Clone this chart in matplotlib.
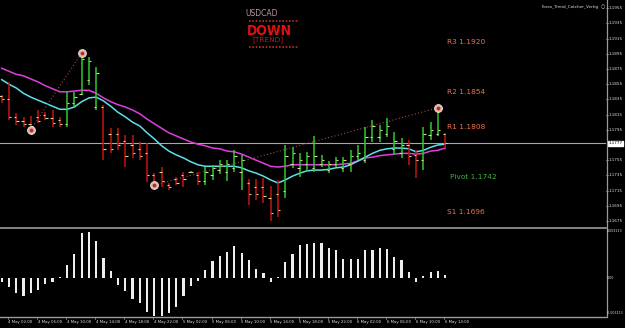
import matplotlib
matplotlib.use('Agg')
import matplotlib.pyplot as plt
import numpy as np

W, H = 625, 328

# ---- data -------------------------------------------------------------
high = [1.1841, 1.1858, 1.1817, 1.1812, 1.1813, 1.1821, 1.1818, 1.1821, 1.1812, 1.1845,
        1.1845, 1.1896, 1.1891, 1.1878, 1.1828, 1.1797, 1.1797, 1.1788, 1.1788, 1.1779,
        1.1778, 1.1738, 1.1746, 1.1725, 1.1733, 1.1739, 1.1741, 1.1739, 1.1746, 1.1749,
        1.1755, 1.1755, 1.1768, 1.1762, 1.1730, 1.1730, 1.1732, 1.1721, 1.1729, 1.1775,
        1.1772, 1.1764, 1.1766, 1.1787, 1.1762, 1.1754, 1.1759, 1.1759, 1.1768, 1.1775,
        1.1799, 1.1808, 1.1801, 1.1811, 1.1792, 1.1784, 1.1782, 1.1768, 1.1799, 1.1805,
        1.1824, 1.1791]
low = [1.1830, 1.1808, 1.1801, 1.1799, 1.1795, 1.1804, 1.1808, 1.1799, 1.1799, 1.1799,
       1.1825, 1.1841, 1.1854, 1.1821, 1.1755, 1.1764, 1.1768, 1.1746, 1.1758, 1.1755,
       1.1726, 1.1722, 1.1720, 1.1716, 1.1722, 1.1720, 1.1738, 1.1722, 1.1722, 1.1729,
       1.1737, 1.1728, 1.1739, 1.1716, 1.1696, 1.1703, 1.1699, 1.1675, 1.1680, 1.1705,
       1.1745, 1.1733, 1.1741, 1.1739, 1.1746, 1.1738, 1.1746, 1.1739, 1.1739, 1.1755,
       1.1751, 1.1779, 1.1779, 1.1786, 1.1762, 1.1758, 1.1749, 1.1732, 1.1742, 1.1782,
       1.1787, 1.1771]
open_ = [1.1840, 1.1835, 1.1812, 1.1806, 1.1803, 1.1812, 1.1815, 1.1810, 1.1808, 1.1802,
         1.1830, 1.1842, 1.1860, 1.1825, 1.1825, 1.1790, 1.1790, 1.1780, 1.1775, 1.1770,
         1.1765, 1.1735, 1.1740, 1.1722, 1.1730, 1.1735, 1.1739, 1.1735, 1.1728, 1.1735,
         1.1742, 1.1740, 1.1745, 1.1740, 1.1725, 1.1720, 1.1720, 1.1705, 1.1710, 1.1715,
         1.1750, 1.1745, 1.1750, 1.1745, 1.1750, 1.1742, 1.1750, 1.1745, 1.1750, 1.1760,
         1.1755, 1.1785, 1.1785, 1.1790, 1.1770, 1.1765, 1.1775, 1.1762, 1.1755, 1.1788,
         1.1790, 1.1790]
close = [1.1835, 1.1812, 1.1806, 1.1803, 1.1800, 1.1806, 1.1810, 1.1804, 1.1802, 1.1830,
         1.1838, 1.1888, 1.1885, 1.1870, 1.1770, 1.1770, 1.1775, 1.1760, 1.1765, 1.1760,
         1.1735, 1.1725, 1.1728, 1.1720, 1.1725, 1.1730, 1.1740, 1.1728, 1.1740, 1.1745,
         1.1750, 1.1750, 1.1760, 1.1755, 1.1710, 1.1710, 1.1708, 1.1685, 1.1690, 1.1760,
         1.1765, 1.1755, 1.1760, 1.1760, 1.1755, 1.1750, 1.1755, 1.1755, 1.1760, 1.1765,
         1.1785, 1.1800, 1.1795, 1.1800, 1.1780, 1.1775, 1.1760, 1.1755, 1.1790, 1.1795,
         1.1795, 1.1777]
ma_slow = [1.1876, 1.1872, 1.1868, 1.1866, 1.1862, 1.1858, 1.1853, 1.1849, 1.1845, 1.1845,
           1.1846, 1.1847, 1.1847, 1.1843, 1.1837, 1.1832, 1.1828, 1.1825, 1.1821, 1.1816,
           1.1809, 1.1803, 1.1797, 1.1791, 1.1787, 1.1783, 1.1779, 1.1776, 1.1774, 1.1771,
           1.1770, 1.1767, 1.1766, 1.1763, 1.1759, 1.1755, 1.1751, 1.1747, 1.1746, 1.1747,
           1.1749, 1.1749, 1.1749, 1.1749, 1.1749, 1.1749, 1.1749, 1.1750, 1.1751, 1.1754,
           1.1758, 1.1759, 1.1761, 1.1762, 1.1763, 1.1764, 1.1764, 1.1763, 1.1764, 1.1767,
           1.1768, 1.1771]
ma_fast = [1.1861, 1.1855, 1.1850, 1.1843, 1.1838, 1.1834, 1.1830, 1.1826, 1.1822, 1.1822,
           1.1825, 1.1832, 1.1837, 1.1838, 1.1833, 1.1826, 1.1818, 1.1812, 1.1805, 1.1800,
           1.1791, 1.1783, 1.1774, 1.1767, 1.1762, 1.1758, 1.1753, 1.1749, 1.1747, 1.1747,
           1.1747, 1.1747, 1.1747, 1.1745, 1.1741, 1.1738, 1.1734, 1.1729, 1.1725, 1.1729,
           1.1734, 1.1738, 1.1741, 1.1742, 1.1742, 1.1743, 1.1745, 1.1746, 1.1749, 1.1754,
           1.1759, 1.1764, 1.1768, 1.1770, 1.1771, 1.1771, 1.1770, 1.1766, 1.1768, 1.1772,
           1.1775, 1.1776]
hist = [-0.00026, -0.00064, -0.00099, -0.00118, -0.00099, -0.00081, -0.00041, -0.00026, 0.00005, 0.00083,
        0.00156, 0.00291, 0.00302, 0.00243, 0.00131, 0.00044, -0.00048, -0.00085, -0.00140, -0.00164,
        -0.00223, -0.00250, -0.00250, -0.00230, -0.00191, -0.00120, -0.00055, -0.00020, 0.00051, 0.00112,
        0.00143, 0.00171, 0.00210, 0.00164, 0.00116, 0.00055, 0.00033, -0.00031, 0.00005, 0.00103,
        0.00156, 0.00215, 0.00219, 0.00230, 0.00225, 0.00193, 0.00182, 0.00123, 0.00123, 0.00123,
        0.00182, 0.00182, 0.00193, 0.00186, 0.00136, 0.00116, 0.00035, -0.00026, 0.00011, 0.00037,
        0.00044, 0.00018]
pivot_names = ["R3", "R2", "R1", "Pivot", "S1"]
pivot_values = [1.1920, 1.1854, 1.1808, 1.1742, 1.1696]
price_ticks = [1.1955, 1.1935, 1.1915, 1.1895, 1.1875, 1.1855, 1.1835, 1.1815, 1.1795,
               1.1755, 1.1735, 1.1715, 1.1695, 1.1675]
bid = 1.1777
time_label_idx = [1, 5, 9, 13, 17, 21, 25, 29, 33, 37, 41, 45, 49, 53, 57, 61]
time_labels = ["4 May 02:00", "4 May 06:00", "4 May 10:00", "4 May 14:00", "4 May 18:00",
               "4 May 22:00", "5 May 02:00", "5 May 06:00", "5 May 10:00", "5 May 14:00",
               "5 May 18:00", "5 May 22:00", "6 May 02:00", "6 May 06:00", "6 May 10:00",
               "6 May 14:00"]
fractal_idx = [4, 11, 21, 60]
fractal_kind = ["low", "high", "low", "high"]
hist_labels = ["0.003213", "0.00", "-0.003113"]

# ---- layout -----------------------------------------------------------
BG = 'black'
fig = plt.figure(figsize=(W / 100, H / 100), dpi=100, facecolor=BG)

def fx(x):
    return x / W

def fy(y):
    return 1 - y / H

AX_R = 606
MAIN_B = 227
LOW_T, LOW_B = 229, 316
step = 7.27
x0 = 1.7
xlim = (-x0 / step, (AX_R - x0) / step)

ax = fig.add_axes([0, fy(MAIN_B), fx(AX_R), MAIN_B / H], facecolor=BG)
ax2 = fig.add_axes([0, fy(LOW_B), fx(AX_R), (LOW_B - LOW_T) / H], facecolor=BG)
for a in (ax, ax2):
    a.set_xlim(*xlim)
    a.set_xticks([])
    a.set_yticks([])
    for s in a.spines.values():
        s.set_visible(False)

ax.set_ylim(1.16671, 1.19658)
ax2.set_ylim(-0.00252, 0.0032)

idx = np.arange(len(high))
o = np.array(open_); c = np.array(close)
up = c >= o
bar_cols = np.where(up, '#2ec82e', '#c41414')

# bid line
ax.axhline(bid, color='#a8a8a8', lw=0.8, zorder=1)

# moving averages
ax.plot(idx, ma_slow, color='#e03ee0', lw=1.1, zorder=2)
ax.plot(idx, ma_fast, color='#5ee0ea', lw=1.1, zorder=2)

# fractal dotted lines
hi = np.array(high); lo = np.array(low)
fr_y = [lo[i] if k == "low" else hi[i] for i, k in zip(fractal_idx, fractal_kind)]
for a_i, b_i in [(0, 1), (2, 3)]:
    ax.plot([fractal_idx[a_i], fractal_idx[b_i]], [fr_y[a_i], fr_y[b_i]],
            color='#a04848', lw=0.8, ls=(0, (1, 2)), zorder=2)

# OHLC bars
ax.vlines(idx, lo, hi, colors=bar_cols, lw=1.1, zorder=3)
tick_col = '#d8dc90'
ax.hlines(o, idx - 0.32, idx, colors=tick_col, lw=0.8, zorder=4)
ax.hlines(c, idx, idx + 0.32, colors=tick_col, lw=0.8, zorder=4)

# fractal circles
ax.scatter(fractal_idx, fr_y, s=32, facecolor='#d8b8a8', edgecolor='#f0e0d8',
           lw=0.6, zorder=5)
ax.scatter(fractal_idx, fr_y, s=3, color='#d02020', zorder=6)

# pivot labels
for n, v in zip(pivot_names, pivot_values):
    col = '#3fae3f' if n == "Pivot" else '#f07050'
    xi = 61.2 if n != "Pivot" else 61.6
    ax.annotate(f"{n} {v:.4f}", (xi, v), xytext=(0, -5), textcoords='offset points',
                ha='left', va='center', fontsize=5.3, color=col, zorder=6)

# histogram
ax2.bar(idx, hist, width=0.3, color='#eeeeee', zorder=3)

# frame lines
fig.add_artist(plt.Line2D([0, fx(AX_R)], [fy(227.5), fy(227.5)], color='#9a9a9a', lw=1.2))
fig.add_artist(plt.Line2D([0, fx(AX_R)], [fy(316.5), fy(316.5)], color='#9a9a9a', lw=1.0))
fig.add_artist(plt.Line2D([fx(AX_R + 0.5), fx(AX_R + 0.5)], [fy(0), fy(317)], color='#9a9a9a', lw=0.9))

# price axis labels
for p in price_ticks:
    ax.annotate(f"{p:.4f}", (1, p), xycoords=('axes fraction', 'data'), xytext=(2.2, 0),
                textcoords='offset points', fontsize=3.0, color='#e0e0e0', va='center',
                ha='left', annotation_clip=False)
    ax.plot([1.0, 1.004], [p, p], transform=ax.get_yaxis_transform(), color='#9a9a9a',
            lw=0.5, clip_on=False)
ax.annotate(f"{bid:.4f}", (1, bid), xycoords=('axes fraction', 'data'), xytext=(1.8, 0),
            textcoords='offset points', fontsize=3.0, color='black', va='center', ha='left',
            annotation_clip=False,
            bbox=dict(boxstyle='square,pad=0.15', fc='white', ec='white'))

# indicator axis labels
for lab, yy in zip(hist_labels, [231, 277.7, 312.5]):
    fig.text(fx(606.9), fy(yy), lab, fontsize=2.3, color='#e0e0e0', va='center', ha='left')

# time labels
for i, lab in zip(time_label_idx, time_labels):
    xp = x0 + step * i
    fig.text(fx(xp - 0.5), fy(321.5), lab, fontsize=2.75, color='#e0e0e0', va='center', ha='left')
    fig.add_artist(plt.Line2D([fx(xp - 1), fx(xp - 1)], [fy(317), fy(319)], color='#9a9a9a', lw=0.5))

# top texts
fig.text(fx(262), fy(14), "USDCAD", fontsize=5.5, color='#b89898', ha='center', va='center')
for yy in (21, 47):
    fig.add_artist(plt.Line2D([fx(249), fx(298)], [fy(yy), fy(yy)], color='#c03030',
                              lw=1.2, ls=(0, (1, 1))))
fig.text(fx(269), fy(31), "DOWN", fontsize=10, color='#e01010', ha='center', va='center',
         fontweight='bold', stretch='condensed')
fig.text(fx(268), fy(40), "[TREND]", fontsize=5.3, color='#c01818', ha='center', va='center')
fig.text(fx(599), fy(7), "Forex_Trend_Catcher_Vertig", fontsize=3.0, color='#e0e0e0',
         ha='right', va='center')
fig.text(fx(602.5), fy(7), "\u25CB", fontsize=3.6, color='#e0e0e0', ha='center', va='center')

fig.savefig('out.png', dpi=100, facecolor=BG)
